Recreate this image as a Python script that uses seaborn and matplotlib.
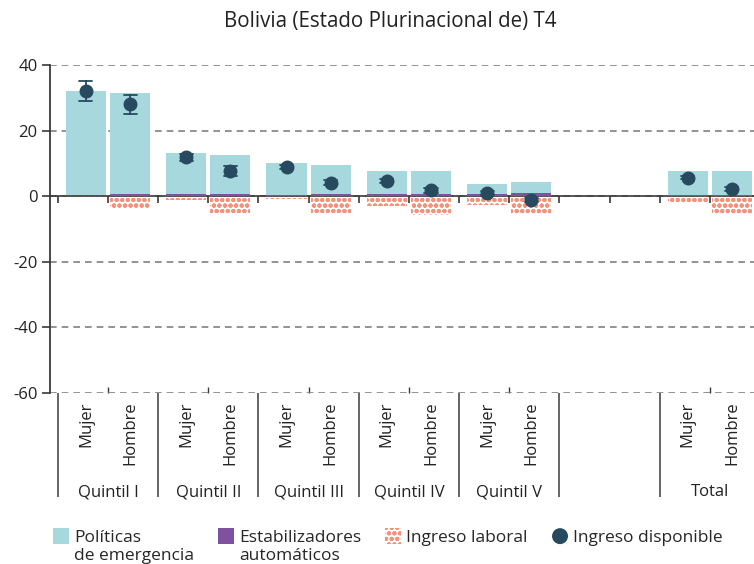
import pandas as pd
import matplotlib
matplotlib.use("Agg")
from matplotlib import pyplot as plt
import matplotlib.transforms as mtransforms
from matplotlib.patches import Patch, Rectangle, Ellipse
from matplotlib.legend_handler import HandlerPatch
import seaborn as sns

titulo = "Bolivia (Estado Plurinacional de) T4"
# " " is the empty slot between Quintil V and Total
grupos = ["Quintil I", "Quintil II", "Quintil III", "Quintil IV", "Quintil V", " ", "Total"]
grupos_datos = ["Quintil I", "Quintil II", "Quintil III", "Quintil IV", "Quintil V", "Total"]
sexos = ["Mujer", "Hombre"]

emergencia_mujer = [32.0, 12.5, 9.5, 7.0, 3.1, 7.2]
emergencia_hombre = [30.8, 11.8, 8.8, 7.0, 3.3, 7.2]
estabilizadores_mujer = [0.1, 0.6, 0.5, 0.6, 0.6, 0.4]
estabilizadores_hombre = [0.6, 0.7, 0.6, 0.6, 1.0, 0.4]
laboral_mujer = [-0.6, -1.2, -0.8, -3.0, -2.7, -2.2]
laboral_hombre = [-3.6, -5.0, -5.2, -5.6, -5.3, -5.3]
disponible_mujer = [32.0, 11.8, 8.9, 4.6, 1.0, 5.6]
disponible_hombre = [28.0, 7.7, 4.1, 1.8, -1.2, 2.1]
error_mujer = [3.0, 1.0, 0.6, 0.7, 0.6, 0.5]
error_hombre = [3.0, 1.4, 0.8, 0.7, 0.7, 0.6]

y_ticks = [-60, -40, -20, 0, 20, 40]

teal = "#a6d8dd"
purple = "#7f52a0"
salmon = "#f4927c"
navy = "#274a5f"
axis_gray = "#3a3a3a"
text_color = "#222222"

rows = []
for i, g in enumerate(grupos_datos):
    rows.append(dict(grupo=g, sexo="Mujer", emergencia=emergencia_mujer[i],
                     estabilizadores=estabilizadores_mujer[i], laboral=laboral_mujer[i],
                     disponible=disponible_mujer[i], error=error_mujer[i]))
    rows.append(dict(grupo=g, sexo="Hombre", emergencia=emergencia_hombre[i],
                     estabilizadores=estabilizadores_hombre[i], laboral=laboral_hombre[i],
                     disponible=disponible_hombre[i], error=error_hombre[i]))
df = pd.DataFrame(rows)
df["barra"] = df["emergencia"] + df["estabilizadores"]

# low / mid / high rows so that pointplot draws the interval
pts = pd.concat([df.assign(v=df["disponible"] - df["error"]),
                 df.assign(v=df["disponible"]),
                 df.assign(v=df["disponible"] + df["error"])])

sns.set_theme(style="white")
plt.rcParams["font.family"] = ["Open Sans", "DejaVu Sans"]
plt.rcParams["hatch.linewidth"] = 1.4

fig = plt.figure(figsize=(7.54, 5.64), dpi=100)
ax = fig.add_axes([50 / 754, 1 - 393 / 564, 704 / 754, 328 / 564])

common = dict(x="grupo", hue="sexo", order=grupos, hue_order=sexos, width=0.88, gap=0.09,
              saturation=1, legend=False, errorbar=None, ax=ax, linewidth=0)
sns.barplot(data=df, y="barra", palette={s: teal for s in sexos}, **common)
sns.barplot(data=df, y="estabilizadores", palette={s: purple for s in sexos}, zorder=4.5, **common)
sns.barplot(data=df, y="laboral", palette={s: "white" for s in sexos}, hatch="ooo",
            edgecolor=salmon, **common)

sns.pointplot(data=pts, x="grupo", y="v", hue="sexo", order=grupos, hue_order=sexos,
              estimator="median", errorbar=("pi", 100), dodge=0.44, linestyle="none",
              palette={s: navy for s in sexos}, markers="o", markersize=8, capsize=0.13,
              err_kws={"linewidth": 1.3}, legend=False, ax=ax, zorder=5)

ax.set_ylim(-60, 40)
ax.set_xlim(-0.578, 6.44)
ax.set_yticks(y_ticks)
ax.set_yticklabels([str(t) for t in y_ticks], fontsize=12, color=text_color)
ax.yaxis.grid(True, linestyle=(0, (4, 3)), color="#808080", linewidth=1.2)
ax.set_axisbelow(True)
ax.set_xlabel("")
ax.set_ylabel("")
for s in ["top", "right", "bottom"]:
    ax.spines[s].set_visible(False)
ax.spines["left"].set_color(axis_gray)
ax.spines["left"].set_linewidth(1.3)
ax.tick_params(axis="y", left=True, direction="out", length=6, width=1.2, color=axis_gray, pad=3)

# bar labels below the plot
bar_pos = []
bar_lab = []
for i, g in enumerate(grupos):
    if g.strip():
        for j, s in enumerate(sexos):
            bar_pos.append(i - 0.22 + 0.44 * j)
            bar_lab.append(s)
ax.set_xticks(bar_pos)
ax.set_xticklabels(bar_lab, rotation=90, fontsize=12, color=text_color)
ax.tick_params(axis="x", which="major", length=0, pad=6)
ax.set_xticks([i for i, g in enumerate(grupos) if g.strip()], minor=True)
ax.tick_params(axis="x", which="minor", bottom=True, direction="in", length=4, width=1.0,
               color=axis_gray)

# zero line with its own ticks
zero = ax.secondary_xaxis(0, transform=ax.transData)
zero.spines["bottom"].set_color(axis_gray)
zero.spines["bottom"].set_linewidth(1.2)
zero.set_xticks([k / 2 - 0.5 for k in range(2 * len(grupos) + 1)])
zero.tick_params(axis="x", direction="out", length=5, width=1.2, color=axis_gray, labelbottom=False)
zero.set_zorder(4)

trans = mtransforms.blended_transform_factory(ax.transData, ax.transAxes)
ax.vlines([i - 0.5 for i in range(len(grupos))], -0.317, 0, transform=trans, clip_on=False,
          color=axis_gray, linewidth=1.1)
for i, g in enumerate(grupos):
    ax.text(i, -0.302, g, transform=trans, ha="center", va="center", fontsize=12, color=text_color)

fig.text(390 / 754, 1 - 21 / 564, titulo, ha="center", va="center", fontsize=14.8, color=text_color)


# legend: square / circle handles level with the first line of each label
def top_square(legend, orig_handle, xdescent, ydescent, width, height, fontsize):
    return Rectangle((-xdescent, -ydescent + 0.6 * fontsize), width, width)


def top_circle(legend, orig_handle, xdescent, ydescent, width, height, fontsize):
    return Ellipse((-xdescent + width / 2, -ydescent + 0.6 * fontsize + width / 2), width, width)


h_emer = Patch(facecolor=teal, linewidth=0)
h_estab = Patch(facecolor=purple, linewidth=0)
h_lab = Patch(facecolor="white", edgecolor=salmon, hatch="ooo", linewidth=0)
h_disp = Patch(facecolor=navy, linewidth=0)
handles = [h_emer, h_estab, h_lab, h_disp]
labels = ["Políticas\nde emergencia", "Estabilizadores\nautomáticos", "Ingreso laboral\n",
          "Ingreso disponible\n"]
hmap = {h_emer: HandlerPatch(patch_func=top_square), h_estab: HandlerPatch(patch_func=top_square),
        h_lab: HandlerPatch(patch_func=top_square), h_disp: HandlerPatch(patch_func=top_circle)}
fig.legend(handles, labels, handler_map=hmap, loc="upper left",
           bbox_to_anchor=(53 / 754, 1 - 530 / 564), ncol=4, frameon=False, fontsize=12.5,
           handlelength=0.92, handleheight=0.92, handletextpad=0.28, columnspacing=1.4,
           labelspacing=0.1, borderaxespad=0, borderpad=0)

fig.savefig("out.png", dpi=100, facecolor="white")
